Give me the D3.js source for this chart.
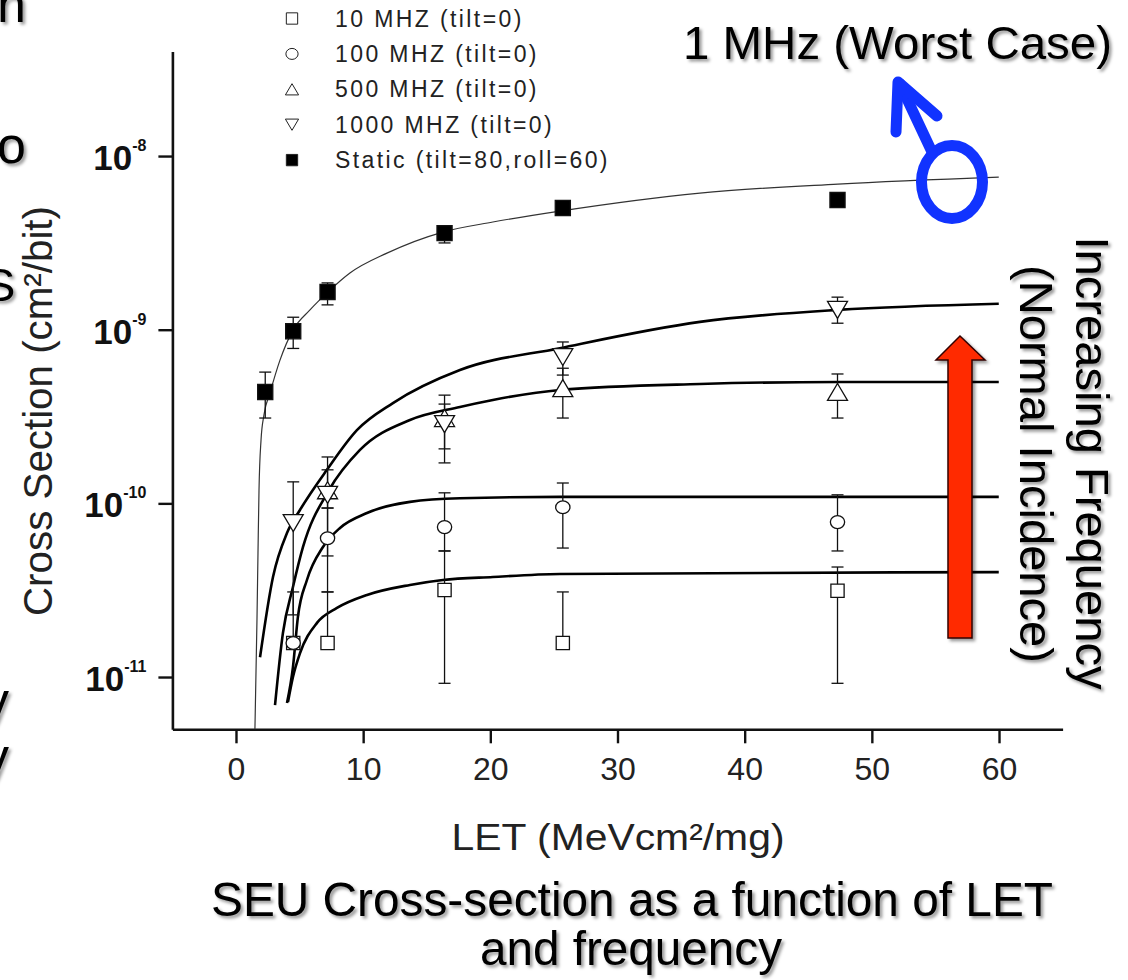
<!DOCTYPE html>
<html>
<head>
<meta charset="utf-8">
<script src="https://cdn.jsdelivr.net/npm/d3@7"></script>
<style>
  body { margin: 0; background: #fff; }
  text { font-family: "Liberation Sans", Arial, sans-serif; }
</style>
</head>
<body>
<script>
// measured points (LET, cross section) per series
var let10 = [4.5, 7.2, 16.4, 25.7, 47.3];
var sig10 = [1.57e-11, 1.57e-11, 3.17e-11, 1.57e-11, 3.14e-11];
var lo10  = [null, null, 9.2e-12, null, 9.2e-12];
var hi10  = [null, 3.09e-11, 5.32e-11, 3.09e-11, 4.3e-11];

var let100 = [4.5, 7.2, 16.4, 25.7, 47.3];
var sig100 = [1.57e-11, 6.3e-11, 7.3e-11, 9.5e-11, 7.8e-11];
var lo100  = [null, 3.09e-11, 5.32e-11, 5.53e-11, 5.32e-11];
var hi100  = [3.09e-11, 9.4e-11, 1.15e-10, 1.31e-10, 1.12e-10];

var let500 = [7.2, 16.4, 25.7, 47.3];
var sig500 = [1.19e-10, 3.1e-10, 4.61e-10, 4.38e-10];
var lo500  = [9.4e-11, 1.71e-10, 3.1e-10, 3.1e-10];
var hi500  = [1.56e-10, 4.2e-10, 6.0e-10, 5.56e-10];

var let1000 = [4.5, 7.2, 16.4, 25.7, 47.3];
var sig1000 = [7.7e-11, 1.12e-10, 2.86e-10, 6.96e-10, 1.30e-9];
var lo1000  = [2.28e-11, 4.98e-11, 2.06e-10, 5.48e-10, 1.09e-9];
var hi1000  = [1.33e-10, 1.85e-10, 3.73e-10, 8.5e-10, 1.54e-9];

var letStatic = [2.3, 4.5, 7.2, 16.4, 25.7, 47.3];
var sigStatic = [4.38e-10, 9.8e-10, 1.65e-9, 3.6e-9, 5.02e-9, 5.58e-9];
var loStatic  = [3.1e-10, 7.8e-10, 1.39e-9, 3.16e-9, 4.75e-9, null];
var hiStatic  = [5.7e-10, 1.18e-9, 1.86e-9, 3.9e-9, 5.25e-9, null];

// fitted curves
var fit10X = [4.09, 4.48, 5.03, 6.37, 7.94, 10.3, 13.68, 16.27, 20.2, 25.47, 59.98];
var fit10Y = [7.18e-12, 1.0e-11, 1.37e-11, 2.05e-11, 2.5e-11, 2.97e-11, 3.39e-11, 3.62e-11, 3.77e-11, 3.92e-11, 4.02e-11];
var fit100X = [4.01, 4.48, 4.87, 5.58, 6.84, 8.18, 10.3, 13.68, 17.61, 25.47, 59.98];
var fit100Y = [7.08e-12, 1.14e-11, 2.22e-11, 3.62e-11, 5.61e-11, 7.22e-11, 8.8e-11, 1.02e-10, 1.07e-10, 1.09e-10, 1.09e-10];
var fit500X = [3.07, 3.69, 4.48, 5.27, 7.31, 9.75, 13.68, 17.61, 20.2, 25.47, 36.48, 47.33, 59.98];
var fit500Y = [6.9e-12, 1.79e-11, 3.3e-11, 5.61e-11, 1.19e-10, 2.03e-10, 3.02e-10, 3.59e-10, 3.94e-10, 4.5e-10, 4.87e-10, 5.0e-10, 5.0e-10];
var fit1000X = [1.89, 2.91, 4.01, 5.03, 7.15, 9.51, 12.34, 17.61, 25.47, 36.48, 47.33, 59.98];
var fit1000Y = [1.30e-11, 3.77e-11, 6.75e-11, 9.16e-11, 1.56e-10, 2.64e-10, 3.78e-10, 5.86e-10, 7.83e-10, 1.11e-9, 1.30e-9, 1.41e-9];
var fitStaticX = [1.49, 1.65, 1.73, 1.81, 1.97, 2.20, 2.67, 3.46, 4.48, 5.82, 7.39, 8.96, 11.87, 16.27, 20.2, 25.47, 36.48, 47.33, 59.98];
var fitStaticY = [5.0e-12, 2.13e-11, 5.18e-11, 1.19e-10, 2.32e-10, 3.23e-10, 4.32e-10, 6.68e-10, 9.95e-10, 1.30e-9, 1.69e-9, 2.12e-9, 2.76e-9, 3.65e-9, 4.17e-9, 4.82e-9, 6.12e-9, 6.9e-9, 7.57e-9];

var legendNames = ["10 MHZ (tilt=0)", "100 MHZ (tilt=0)", "500 MHZ (tilt=0)", "1000 MHZ (tilt=0)", "Static (tilt=80,roll=60)"];
var xMajorTicks = [0, 10, 20, 30, 40, 50, 60];
var xMinorTicks = [-5, 5, 15, 25, 35, 45, 55, 65];
var yMajorTicks = [1e-11, 1e-10, 1e-9, 1e-8];
var yExponents = ["-11", "-10", "-9", "-8"];

var series = [
  {name: legendNames[0], sym: "square",  x: let10, y: sig10, lo: lo10, hi: hi10, fx: fit10X, fy: fit10Y, fw: 2.6},
  {name: legendNames[1], sym: "circle",  x: let100, y: sig100, lo: lo100, hi: hi100, fx: fit100X, fy: fit100Y, fw: 2.6},
  {name: legendNames[2], sym: "up",      x: let500, y: sig500, lo: lo500, hi: hi500, fx: fit500X, fy: fit500Y, fw: 2.6},
  {name: legendNames[3], sym: "down",    x: let1000, y: sig1000, lo: lo1000, hi: hi1000, fx: fit1000X, fy: fit1000Y, fw: 2.6},
  {name: legendNames[4], sym: "filled",  x: letStatic, y: sigStatic, lo: loStatic, hi: hiStatic, fx: fitStaticX, fy: fitStaticY, fw: 1.2}
];

var W = 1128, H = 980;
var xScale = d3.scaleLinear().domain([-5, 65]).range([172.4, 1062.6]);
var yScale = d3.scaleLog().domain([5e-12, 4e-8]).range([729.3, 51.5]);

var svg = d3.select("body").append("svg")
    .attr("width", W).attr("height", H)
    .style("background", "#fff");

var defs = svg.append("defs");
defs.append("filter").attr("id", "shadow")
    .attr("x", "-10%").attr("y", "-10%").attr("width", "130%").attr("height", "140%")
  .append("feDropShadow")
    .attr("dx", 2.5).attr("dy", 2.5).attr("stdDeviation", 1.8)
    .attr("flood-color", "#000").attr("flood-opacity", 0.4);

// marker path for a symbol type, size scale k
function symbolPath(sym, k) {
  if (sym == "square" || sym == "filled") {
    var s = 6.3 * k;
    return "M" + (-s) + "," + (-s) + "h" + (2*s) + "v" + (2*s) + "h" + (-2*s) + "z";
  }
  if (sym == "circle") {
    var r = 6.8 * k;
    return "M" + (-r) + ",0a" + r + "," + (r*0.9) + " 0 1,0 " + (2*r) + ",0a" + r + "," + (r*0.9) + " 0 1,0 " + (-2*r) + ",0z";
  }
  var w = 10 * k, h = 8.5 * k;
  if (sym == "up") return "M0," + (-h) + "L" + w + "," + h + "L" + (-w) + "," + h + "z";
  return "M0," + h + "L" + w + "," + (-h) + "L" + (-w) + "," + (-h) + "z";
}

// axes
var xAxisG = svg.append("g").attr("transform", "translate(0," + 729.3 + ")");
xAxisG.call(d3.axisBottom(xScale).tickValues(xMinorTicks).tickSize(8).tickSizeOuter(0).tickFormat(""));
xAxisG.call(d3.axisBottom(xScale).tickValues(xMajorTicks).tickSize(14).tickSizeOuter(0).tickPadding(14));
xAxisG.selectAll("path.domain").attr("stroke-width", 2.6).attr("stroke", "#111");
xAxisG.selectAll("line").attr("stroke-width", 2.4).attr("stroke", "#111");
xAxisG.selectAll("text").attr("font-size", 32).attr("fill", "#222")
    .style("font-family", "'Liberation Sans', Arial, sans-serif");

var yMinor = [];
[-12, -11, -10, -9, -8].forEach(function (e) {
  for (var m = 2; m <= 9; m++) {
    var v = m * Math.pow(10, e);
    if (v >= 5e-12 * 0.999 && v <= 4e-8 * 1.001) yMinor.push(v);
  }
});
var yAxisG = svg.append("g").attr("transform", "translate(" + 172.4 + ",0)");
yAxisG.call(d3.axisLeft(yScale).tickValues(yMinor).tickSize(7).tickSizeOuter(0).tickFormat(""));
yAxisG.call(d3.axisLeft(yScale).tickValues(yMajorTicks).tickSize(14).tickSizeOuter(0).tickPadding(12).tickFormat(""));
yAxisG.selectAll("path.domain").attr("stroke-width", 2.6).attr("stroke", "#111");
yAxisG.selectAll("line").attr("stroke-width", 2.4).attr("stroke", "#111");

var yLabels = yAxisG.selectAll(".ylab").data(yMajorTicks).enter().append("text")
    .attr("class", "ylab")
    .attr("x", -26)
    .attr("y", function (d) { return yScale(d) + 14; })
    .attr("text-anchor", "end")
    .attr("fill", "#111")
    .attr("font-weight", "bold")
    .attr("font-size", 35);
yLabels.append("tspan").text("10");
yLabels.append("tspan").attr("font-size", 16).attr("dy", -19)
    .text(function (d, i) { return yExponents[i]; });

// fitted curves
var line = d3.line()
    .x(function (d) { return xScale(d[0]); })
    .y(function (d) { return yScale(d[1]); })
    .curve(d3.curveMonotoneX);

svg.append("g").selectAll("path").data(series).enter().append("path")
    .attr("d", function (s) { return line(s.fx.map(function (x, i) { return [x, s.fy[i]]; })); })
    .attr("fill", "none")
    .attr("stroke", function (s) { return s.sym == "filled" ? "#333" : "#000"; })
    .attr("stroke-width", function (s) { return s.fw; });

// error bars
var bars = [];
series.forEach(function (s) {
  s.x.forEach(function (x, i) {
    if (s.lo[i] == null && s.hi[i] == null) return;
    bars.push({x: x, y: s.y[i], lo: s.lo[i], hi: s.hi[i]});
  });
});
var barG = svg.append("g").attr("stroke", "#111").attr("stroke-width", 1.3);
bars.forEach(function (b) {
  var px = xScale(b.x);
  var y0 = yScale(b.lo != null ? b.lo : b.y);
  var y1 = yScale(b.hi != null ? b.hi : b.y);
  barG.append("line").attr("x1", px).attr("x2", px).attr("y1", y0).attr("y2", y1);
  if (b.lo != null) barG.append("line").attr("x1", px - 6).attr("x2", px + 6).attr("y1", y0).attr("y2", y0);
  if (b.hi != null) barG.append("line").attr("x1", px - 6).attr("x2", px + 6).attr("y1", y1).attr("y2", y1);
});

// markers
series.forEach(function (s) {
  svg.append("g").selectAll("path").data(s.x).enter().append("path")
      .attr("transform", function (d, i) { return "translate(" + xScale(d) + "," + yScale(s.y[i]) + ")"; })
      .attr("d", symbolPath(s.sym, s.sym == "filled" ? 1.2 : (s.sym == "up" || s.sym == "down" ? 1 : 1.05)))
      .attr("fill", s.sym == "filled" ? "#000" : "#fff")
      .attr("stroke", "#111")
      .attr("stroke-width", 1.3);
});

// legend
var legend = svg.append("g").selectAll("g").data(series).enter().append("g")
    .attr("transform", function (d, i) { return "translate(0," + (26.5 + i * 35.4) + ")"; });
legend.append("path")
    .attr("transform", "translate(292,-8)")
    .attr("d", function (s) { return symbolPath(s.sym, s.sym == "up" || s.sym == "down" ? 0.66 : 0.9); })
    .attr("fill", function (s) { return s.sym == "filled" ? "#000" : "#fff"; })
    .attr("stroke", "#222").attr("stroke-width", 1);
legend.append("text")
    .attr("x", 335).attr("y", 0)
    .attr("font-size", 23).attr("letter-spacing", 2.4)
    .attr("fill", "#222")
    .text(function (s) { return s.name; });

// axis titles
svg.append("text")
    .attr("transform", "translate(52,411) rotate(-90)")
    .attr("text-anchor", "middle")
    .attr("font-size", 41).attr("fill", "#222")
    .attr("textLength", 410).attr("lengthAdjust", "spacingAndGlyphs")
    .text("Cross Section (cm\u00b2/bit)");
svg.append("text")
    .attr("x", 618).attr("y", 850)
    .attr("text-anchor", "middle")
    .attr("font-size", 37).attr("fill", "#222")
    .attr("textLength", 333).attr("lengthAdjust", "spacingAndGlyphs")
    .text("LET (MeVcm\u00b2/mg)");

// slide annotations
var slide = svg.append("g").attr("filter", "url(#shadow)").attr("fill", "#000");
slide.append("text").attr("x", 683).attr("y", 59).attr("font-size", 46)
    .attr("textLength", 429).attr("lengthAdjust", "spacingAndGlyphs")
    .text("1 MHz (Worst Case)");
slide.append("text").attr("x", 632).attr("y", 916).attr("text-anchor", "middle").attr("font-size", 49)
    .attr("textLength", 842).attr("lengthAdjust", "spacingAndGlyphs")
    .text("SEU Cross-section as a function of LET");
slide.append("text").attr("x", 631).attr("y", 965).attr("text-anchor", "middle").attr("font-size", 49)
    .attr("textLength", 302).attr("lengthAdjust", "spacingAndGlyphs")
    .text("and frequency");
slide.append("text").attr("transform", "translate(1076,463) rotate(90)")
    .attr("text-anchor", "middle").attr("font-size", 47)
    .attr("textLength", 453).attr("lengthAdjust", "spacingAndGlyphs")
    .text("Increasing Frequency");
slide.append("text").attr("transform", "translate(1020,464) rotate(90)")
    .attr("text-anchor", "middle").attr("font-size", 47)
    .attr("textLength", 398).attr("lengthAdjust", "spacingAndGlyphs")
    .text("(Normal Incidence)");

// cut-off text from the slide's left column
var frag = svg.append("g").attr("filter", "url(#shadow)").attr("font-size", 52).attr("fill", "#000");
frag.append("text").attr("x", -3).attr("y", 22).text("n");
frag.append("text").attr("x", -3).attr("y", 163).text("o");
frag.append("text").attr("x", -16).attr("y", 301).attr("font-size", 47).text("S");
frag.append("text").attr("x", -17).attr("y", 718).text("y");
frag.append("text").attr("x", -17).attr("y", 774).text("y");

// red arrow
svg.append("path")
    .attr("d", "M948,638 L948,360 L936,360 L960,336 L985,360 L972,360 L972,638 Z")
    .attr("fill", "#ff2b00").attr("stroke", "#300").attr("stroke-width", 1.5)
    .attr("filter", "url(#shadow)");

// blue ring with arrow
var blue = svg.append("g").attr("stroke", "#1133ff").attr("fill", "none")
    .attr("stroke-width", 11).attr("stroke-linecap", "round").attr("stroke-linejoin", "round");
blue.append("ellipse").attr("cx", 952).attr("cy", 182).attr("rx", 30.5).attr("ry", 36.5);
blue.append("line").attr("x1", 932).attr("y1", 152).attr("x2", 900).attr("y2", 84);
blue.append("polyline").attr("points", "896,132 898,82 937,116");
</script>
</body>
</html>
